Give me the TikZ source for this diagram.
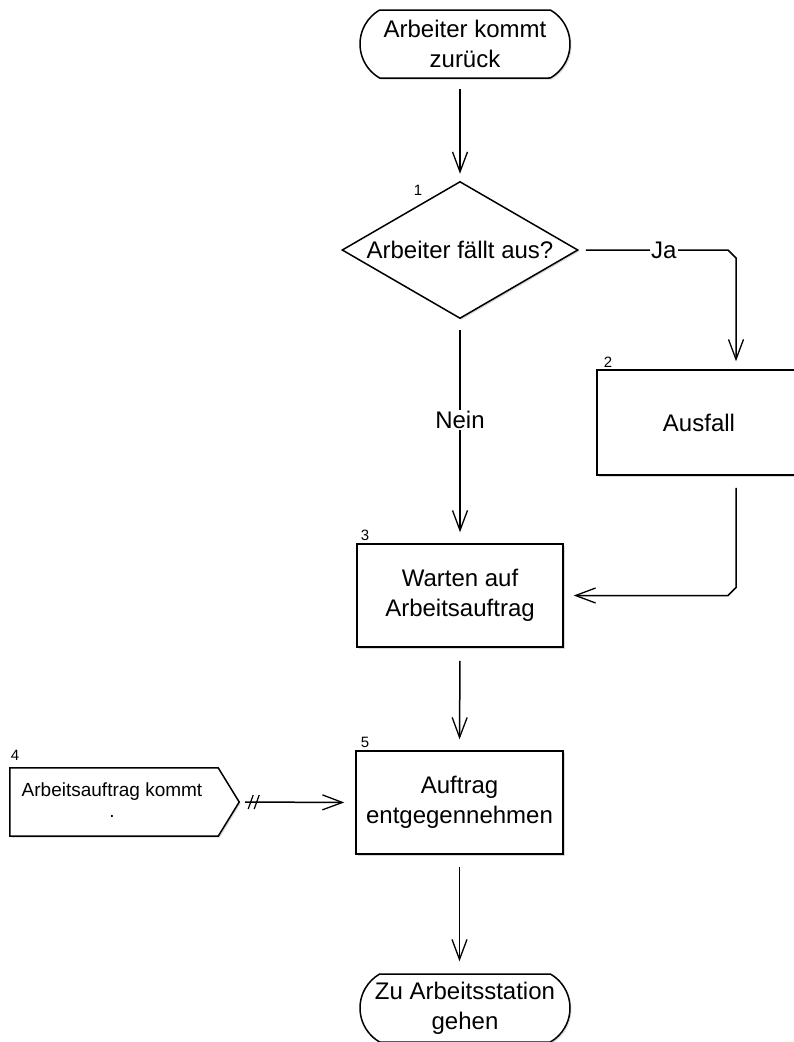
\documentclass[tikz,border=0pt]{standalone}
\usepackage{fontspec}
\setmainfont{Liberation Sans}
\usetikzlibrary{arrows.meta,shapes.misc,shapes.geometric,shadows,calc}
\begin{document}
\begin{tikzpicture}[x=1pt,y=-1pt,
  every node/.style={font=\fontsize{24}{30}\selectfont},
  shape line/.style={draw=black, line width=1.5pt, fill=white,
    drop shadow={shadow xshift=1.5pt, shadow yshift=-1.5pt, opacity=0.3}},
  box/.style={shape line, rectangle, inner sep=0pt, align=center},
  term/.style={shape line, rounded rectangle, rounded rectangle arc length=120,
    minimum width=210pt, minimum height=68pt, inner sep=0pt, align=center},
  flow/.style={draw=black, line width=1.5pt,
    -{Straight Barb[length=20pt, width=15pt, line width=1.3pt]}},
  num/.style={font=\fontsize{15}{15}\selectfont, inner sep=0pt},
  lbl/.style={fill=white, inner sep=1pt},
]
\useasboundingbox (0,0) rectangle (794,1042);
\clip (0,0) rectangle (794,1042);

% process steps
\node[term] (start) at (465,44) {Arbeiter kommt\\zurück};
\node[box, diamond, aspect=1.72, minimum width=236pt, minimum height=137pt] (dec) at (460,250) {Arbeiter fällt aus?};
\node[box, minimum width=204pt, minimum height=105pt] (ausfall) at (699,422.5) {Ausfall};
\node[box, minimum width=206pt, minimum height=103pt] (warten) at (460,595.5) {Warten auf\\Arbeitsauftrag};
\node[box, minimum width=207pt, minimum height=103pt] (auftrag) at (459.5,802.5) {Auftrag\\entgegennehmen};
\node[term] (end) at (465,1008) {Zu Arbeitsstation\\gehen};

% incoming signal
\node[minimum width=229pt, minimum height=68pt, inner sep=0pt] (sig) at (124.5,802) {};
\draw[shape line] (sig.north west) -- ($(sig.north east)+(-21,0)$) -- (sig.east)
  -- ($(sig.south east)+(-21,0)$) -- (sig.south west) -- cycle;
\node[font=\fontsize{19}{21}\selectfont, align=center, inner sep=0pt] (sigtext) at (112,800) {Arbeitsauftrag kommt\\.};

% step numbers
\node[num] (n1) at (418,190) {1};
\node[num] (n2) at (608,362) {2};
\node[num] (n3) at (365,535) {3};
\node[num] (n4) at (15,755) {4};
\node[num] (n5) at (365,742) {5};

% connectors
\draw[flow, shorten <=10pt, shorten >=7pt] (dec.north |- start.south) -- (dec.north);
\draw[flow, shorten <=11pt, shorten >=11pt] (dec.south) -- node[lbl, pos=0.45]{Nein} (warten.north);
\draw[flow, shorten <=7pt, shorten >=8pt] (dec.east) -- node[lbl, pos=0.57]{Ja} (728,250)
  -- (736,258) -- (ausfall.north -| 736,0);
\draw[flow, shorten <=12pt, shorten >=10pt] (ausfall.south -| 736,0) -- (736,587.5)
  -- (728,595.5) -- (warten.east);
\draw[flow, shorten <=13pt, shorten >=11pt] (warten.south) -- (auftrag.north);
\draw[flow, shorten <=6pt, shorten >=11pt] (sig.east) -- (auftrag.west);
\draw[line width=1.2pt] ($(sig.east)+(9,7)$) -- ++(5,-14);
\draw[line width=1.2pt] ($(sig.east)+(15,7)$) -- ++(5,-14);
\draw[flow, shorten <=12pt, shorten >=12pt] (auftrag.south) -- (auftrag.south |- end.north);
\end{tikzpicture}
\end{document}
